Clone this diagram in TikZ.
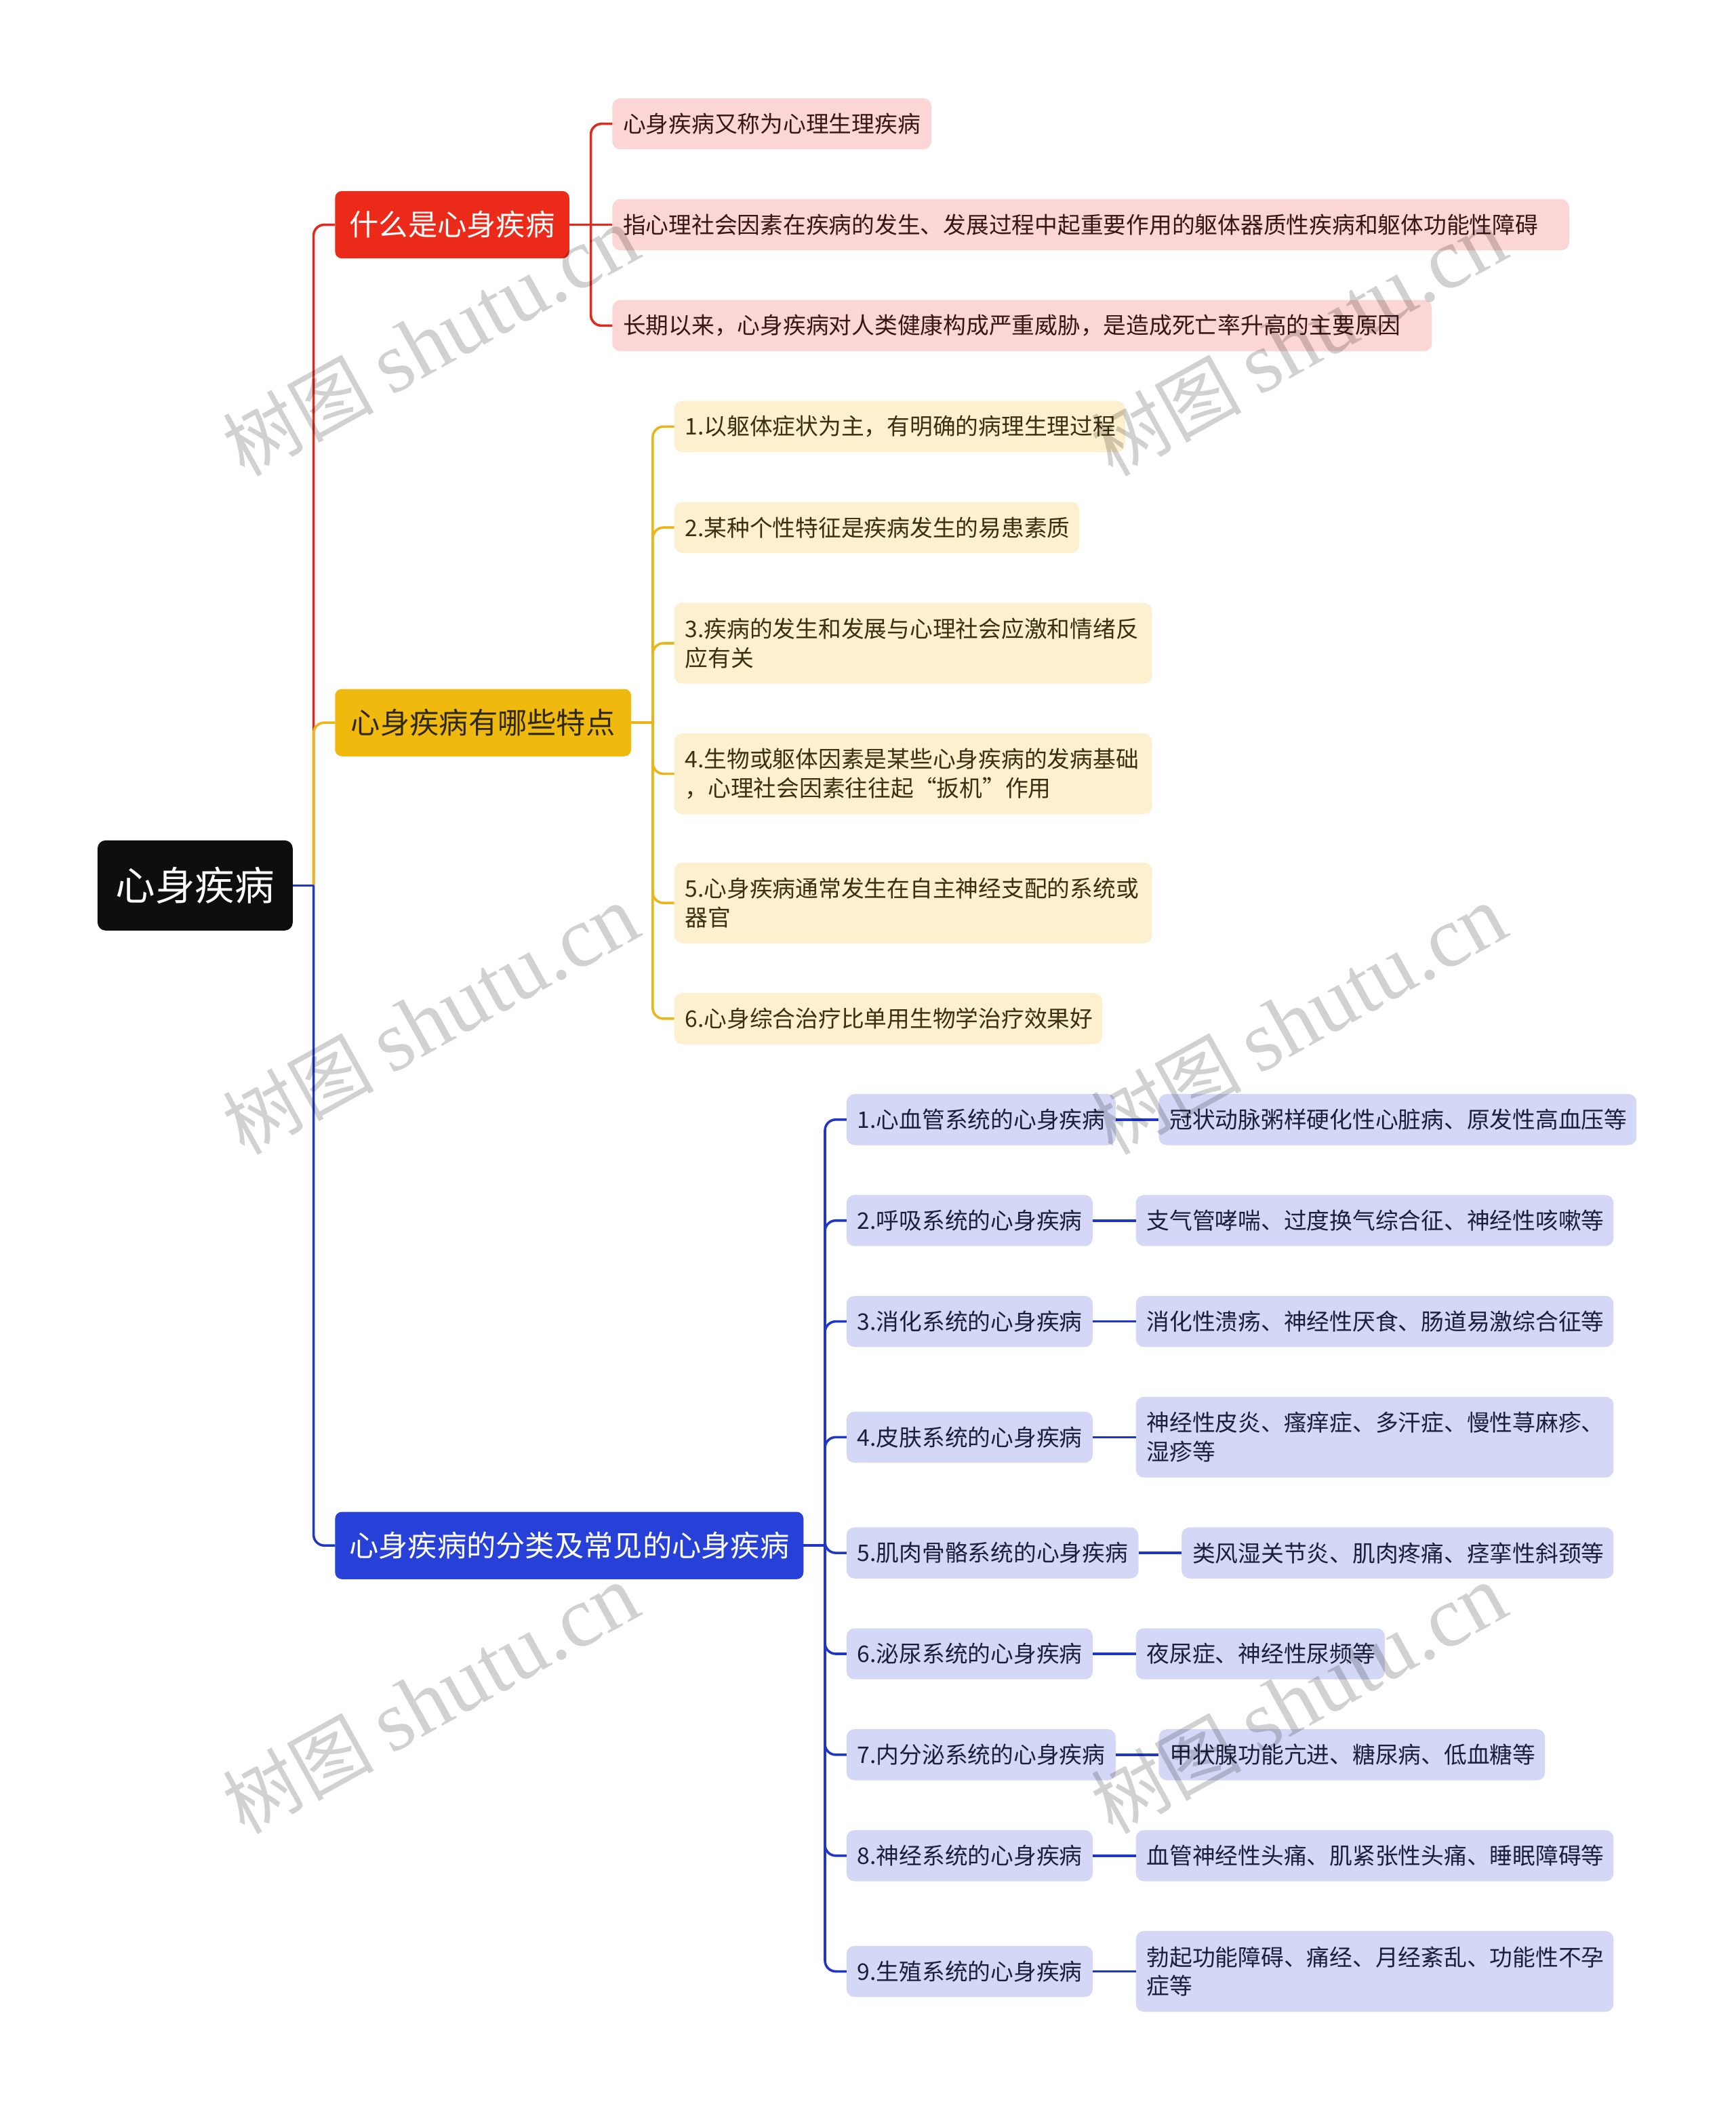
\documentclass[tikz,border=0pt]{standalone}
\usepackage{fontspec}
\setmainfont{Noto Sans CJK SC}
\newfontfamily\wmlatin{Liberation Serif}

\definecolor{rootc}{HTML}{0E0E0E}
\definecolor{redc}{HTML}{EC2A1A}
\definecolor{yelc}{HTML}{F0B90E}
\definecolor{bluc}{HTML}{2640D8}
\definecolor{pinkc}{HTML}{FCD6D5}
\definecolor{creamc}{HTML}{FDF0CE}
\definecolor{lavc}{HTML}{D4D8F6}
\definecolor{redline}{HTML}{E3291B}
\definecolor{yelline}{HTML}{EBB517}
\definecolor{bluline}{HTML}{1F36CC}
\definecolor{txtr}{HTML}{3A1414}
\definecolor{txty}{HTML}{3A2F12}
\definecolor{txtb}{HTML}{1C1F3C}
\definecolor{txtyb}{HTML}{2E2818}

\begin{document}
\begin{tikzpicture}[x=1pt,y=-1pt,
  every node/.style={inner sep=0pt, outer sep=0pt},
  rootbox/.style={fill=rootc, text=white, rounded corners=6pt,
    font=\fontsize{29.5}{34}\selectfont, minimum width=145pt, minimum height=67pt},
  topbox/.style={rounded corners=5pt, font=\fontsize{21.8}{26}\selectfont,
    minimum height=50pt, minimum width=#1},
  bw/.code={\pgfmathsetlengthmacro\mmtw{#1-16}\tikzset{text width=\mmtw, minimum width=#1}},
  subbox/.style={anchor=west, rounded corners=6pt, font=\fontsize{17}{21.5}\selectfont,
    inner xsep=8pt, minimum height=38pt, align=left},
  tall/.style={minimum height=60pt},
  pinkbox/.style={subbox, fill=pinkc, text=txtr},
  creambox/.style={subbox, fill=creamc, text=txty},
  lavbox/.style={subbox, fill=lavc, text=txtb},
  conn/.style={line width=1.8pt, rounded corners=8pt},
  redln/.style={conn, draw=redline},
  yelln/.style={conn, draw=yelline},
  bluln/.style={conn, draw=bluline},
  wm/.style={rotate=29, text=black, text opacity=0.18, font=\fontsize{56}{60}\selectfont}
]
\fill[white] (0,0) rectangle (1289.5,1568);
\useasboundingbox (0,0) rectangle (1289.5,1568);

% root and main branches
\node[rootbox] (root) at (145,658) {心身疾病};
\node[topbox=174pt, fill=redc, text=white] (b1) at (336,167) {什么是心身疾病};
\node[topbox=220pt, fill=yelc, text=txtyb] (b2) at (359,537) {心身疾病有哪些特点};
\node[topbox=348pt, fill=bluc, text=white] (b3) at (423,1148.5) {心身疾病的分类及常见的心身疾病};

% red children
\node[pinkbox, bw=237] (r1) at (455,92) {心身疾病又称为心理生理疾病};
\node[pinkbox, bw=711] (r2) at (455,167) {指心理社会因素在疾病的发生、发展过程中起重要作用的躯体器质性疾病和躯体功能性障碍};
\node[pinkbox, bw=609] (r3) at (455,242) {长期以来，心身疾病对人类健康构成严重威胁，是造成死亡率升高的主要原因};

% yellow children
\node[creambox, bw=335] (y1) at (501,317) {1.以躯体症状为主，有明确的病理生理过程};
\node[creambox, bw=301] (y2) at (501,392) {2.某种个性特征是疾病发生的易患素质};
\node[creambox, tall, bw=355] (y3) at (501,478) {3.疾病的发生和发展与心理社会应激和情绪反\\应有关};
\node[creambox, tall, bw=355] (y4) at (501,575) {4.生物或躯体因素是某些心身疾病的发病基础\\，心理社会因素往往起“扳机”作用};
\node[creambox, tall, bw=355] (y5) at (501,671) {5.心身疾病通常发生在自主神经支配的系统或\\器官};
\node[creambox, bw=318] (y6) at (501,757) {6.心身综合治疗比单用生物学治疗效果好};

% blue children
\node[lavbox, bw=200] (c1) at (629,832) {1.心血管系统的心身疾病};
\node[lavbox, bw=355] (d1) at (861,832) {冠状动脉粥样硬化性心脏病、原发性高血压等};
\node[lavbox, bw=183] (c2) at (629,907) {2.呼吸系统的心身疾病};
\node[lavbox, bw=355] (d2) at (844,907) {支气管哮喘、过度换气综合征、神经性咳嗽等};
\node[lavbox, bw=183] (c3) at (629,982) {3.消化系统的心身疾病};
\node[lavbox, bw=355] (d3) at (844,982) {消化性溃疡、神经性厌食、肠道易激综合征等};
\node[lavbox, bw=183] (c4) at (629,1068) {4.皮肤系统的心身疾病};
\node[lavbox, tall, bw=355] (d4) at (844,1068) {神经性皮炎、瘙痒症、多汗症、慢性荨麻疹、\\湿疹等};
\node[lavbox, bw=217] (c5) at (629,1154) {5.肌肉骨骼系统的心身疾病};
\node[lavbox, bw=321] (d5) at (878,1154) {类风湿关节炎、肌肉疼痛、痉挛性斜颈等};
\node[lavbox, bw=183] (c6) at (629,1229) {6.泌尿系统的心身疾病};
\node[lavbox, bw=185] (d6) at (844,1229) {夜尿症、神经性尿频等};
\node[lavbox, bw=200] (c7) at (629,1304) {7.内分泌系统的心身疾病};
\node[lavbox, bw=287] (d7) at (861,1304) {甲状腺功能亢进、糖尿病、低血糖等};
\node[lavbox, bw=183] (c8) at (629,1379) {8.神经系统的心身疾病};
\node[lavbox, bw=355] (d8) at (844,1379) {血管神经性头痛、肌紧张性头痛、睡眠障碍等};
\node[lavbox, bw=183] (c9) at (629,1465) {9.生殖系统的心身疾病};
\node[lavbox, tall, bw=355] (d9) at (844,1465) {勃起功能障碍、痛经、月经紊乱、功能性不孕\\症等};

% junctions
\coordinate (j0) at (233,658);
\coordinate (j1) at (439,167);
\coordinate (j2) at (485,537);
\coordinate (j3) at (613,1148.5);

% root connectors
\draw[redln] (j0) |- (b1.west);
\draw[yelln] (j0) |- (b2.west);
\draw[bluln] (j0) |- (b3.west);
\draw[bluln] (root.east) -- (j0);

% red connectors
\draw[redln] (b1.east) -- (j1);
\draw[redln] (j1) |- (r1.west);
\draw[redln] (j1) -- (r2.west);
\draw[redln] (j1) |- (r3.west);

% yellow connectors
\draw[yelln] (b2.east) -- (j2);
\foreach \n in {y1,y2,y3,y4,y5,y6} \draw[yelln] (j2) |- (\n.west);

% blue connectors
\draw[bluln] (b3.east) -- (j3);
\foreach \n in {c1,c2,c3,c4,c5,c6,c7,c8,c9} \draw[bluln] (j3) |- (\n.west);
\foreach \n/\m in {c1/d1,c2/d2,c3/d3,c4/d4,c5/d5,c6/d6,c7/d7,c8/d8,c9/d9}
  \draw[bluln] (\n.east) -- (\m.west);

% watermarks
\node[wm] (wm1) at (320,254) {树图 {\wmlatin\fontsize{64}{64}\selectfont shutu.cn}};
\node[wm] (wm2) at (965,254) {树图 {\wmlatin\fontsize{64}{64}\selectfont shutu.cn}};
\node[wm] (wm3) at (320,758) {树图 {\wmlatin\fontsize{64}{64}\selectfont shutu.cn}};
\node[wm] (wm4) at (965,758) {树图 {\wmlatin\fontsize{64}{64}\selectfont shutu.cn}};
\node[wm] (wm5) at (320,1263) {树图 {\wmlatin\fontsize{64}{64}\selectfont shutu.cn}};
\node[wm] (wm6) at (965,1263) {树图 {\wmlatin\fontsize{64}{64}\selectfont shutu.cn}};
\end{tikzpicture}
\end{document}
